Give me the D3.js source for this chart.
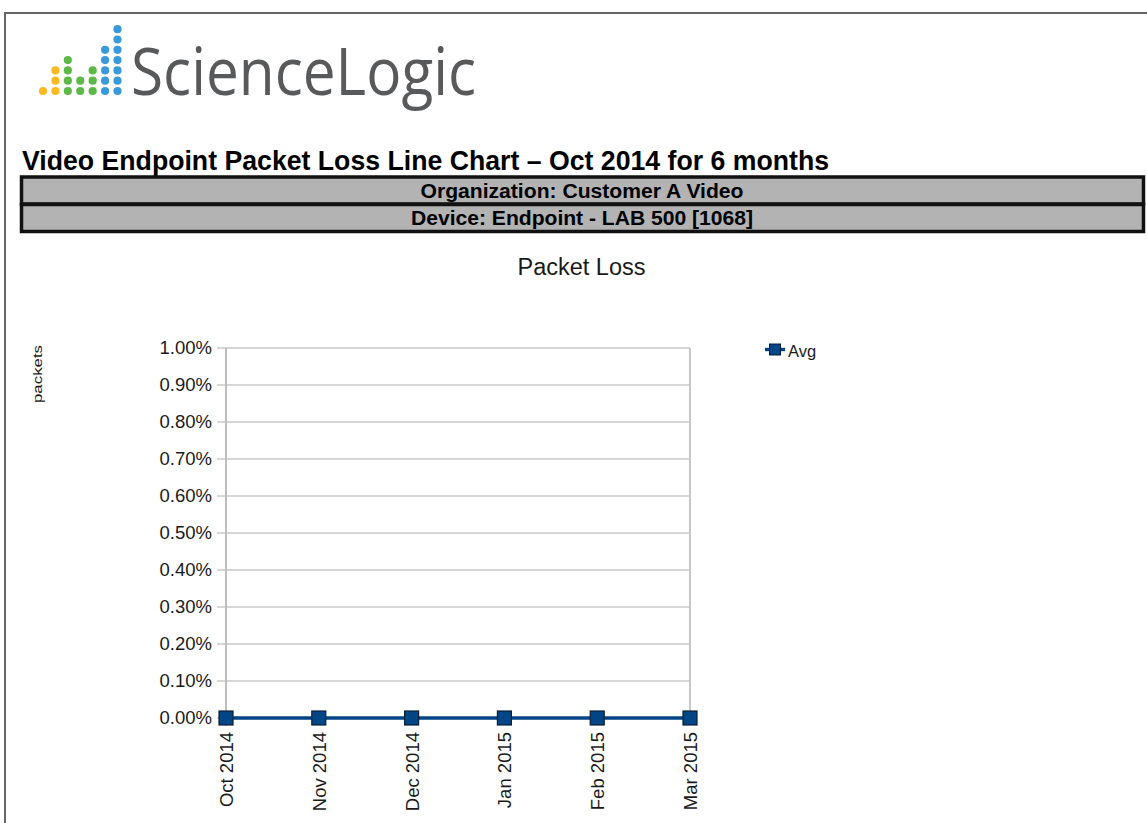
<!DOCTYPE html>
<html><head><meta charset="utf-8">
<script src="https://cdn.jsdelivr.net/npm/d3@7"></script>
<style>html,body{margin:0;padding:0;background:#fff;overflow:hidden}</style>
</head><body>
<svg id="c" width="1147" height="823"></svg>
<script>
const reportTitle = "Video Endpoint Packet Loss Line Chart \u2013 Oct 2014 for 6 months";
const headerRows = ["Organization: Customer A Video", "Device: Endpoint - LAB 500 [1068]"];
const chartTitle = "Packet Loss";
const yAxisTitle = "packets";
const categories = ["Oct 2014", "Nov 2014", "Dec 2014", "Jan 2015", "Feb 2015", "Mar 2015"];
const seriesName = "Avg";
const avgValues = [0, 0, 0, 0, 0, 0];
const yTicks = [0, 0.001, 0.002, 0.003, 0.004, 0.005, 0.006, 0.007, 0.008, 0.009, 0.01];
// logo dot columns: number of dots and colour
const logoCounts = [1, 3, 4, 2, 3, 5, 7];
const logoColors = ["#fbb923", "#fbb923", "#5db848", "#5db848", "#5db848", "#3a9ad9", "#3a9ad9"];

const svg = d3.select("#c");

// page border
svg.append("line").attr("x1", 4).attr("x2", 1147).attr("y1", 13).attr("y2", 13).attr("stroke", "#666").attr("stroke-width", 2);
svg.append("line").attr("x1", 5).attr("x2", 5).attr("y1", 12).attr("y2", 823).attr("stroke", "#666").attr("stroke-width", 2);

// logo
const logo = svg.append("g");
const colX = d3.scaleLinear().domain([0, 6]).range([43, 117.5]);
logoCounts.forEach((n, i) => {
  for (let k = 0; k < n; k++) {
    logo.append("circle").attr("cx", colX(i)).attr("cy", 91 - k * 10.3).attr("r", 4.1).attr("fill", logoColors[i]);
  }
});
logo.append("text").attr("x", 131).attr("y", 95).attr("font-family", "'Open Sans', Lato, sans-serif")
  .attr("font-size", 66).attr("fill", "#58595b").attr("textLength", 345).attr("lengthAdjust", "spacingAndGlyphs")
  .text("ScienceLogic");

// report title
const narrow = "'Liberation Sans Narrow', 'Arial Narrow', 'Liberation Sans', Arial, sans-serif";
svg.append("text").attr("x", 22).attr("y", 170).attr("font-family", narrow).attr("font-weight", "bold")
  .attr("font-size", 27).attr("fill", "#000").attr("textLength", 807).attr("lengthAdjust", "spacingAndGlyphs")
  .text(reportTitle);

// header boxes
const hdrY = [177, 204.5];
const hdrLen = [323, 342];
headerRows.forEach((t, i) => {
  svg.append("rect").attr("x", 21.5).attr("y", hdrY[i]).attr("width", 1122).attr("height", 27)
    .attr("fill", "#b3b3b3").attr("stroke", "#111").attr("stroke-width", 3.5);
});
headerRows.forEach((t, i) => {
  svg.append("text").attr("x", 582).attr("y", hdrY[i] + 20.5).attr("text-anchor", "middle")
    .attr("font-family", narrow).attr("font-weight", "bold").attr("font-size", 19.5).attr("fill", "#000")
    .attr("textLength", hdrLen[i]).attr("lengthAdjust", "spacingAndGlyphs").text(t);
});

// chart
const font = "'Liberation Sans', Arial, sans-serif";
const txt = "#1a1a1a";
svg.append("text").attr("x", 581.5).attr("y", 275).attr("text-anchor", "middle").attr("font-family", font)
  .attr("font-size", 23.5).attr("fill", txt).text(chartTitle);

const x = d3.scalePoint().domain(categories).range([226, 690]);
const y = d3.scaleLinear().domain([0, 0.01]).range([718, 348]);

const grid = svg.append("g");
grid.selectAll("line.h").data(yTicks).join("line")
  .attr("x1", 217).attr("x2", 690).attr("y1", d => y(d)).attr("y2", d => y(d))
  .attr("stroke", "#c8c8c8").attr("stroke-width", 1.6);
grid.append("line").attr("x1", x(categories[0])).attr("x2", x(categories[0])).attr("y1", y(0.01)).attr("y2", y(0) + 8)
  .attr("stroke", "#bdbdbd").attr("stroke-width", 2);
grid.append("line").attr("x1", x(categories[5])).attr("x2", x(categories[5])).attr("y1", y(0.01)).attr("y2", y(0))
  .attr("stroke", "#c8c8c8").attr("stroke-width", 2);

const yAxis = d3.axisLeft(y).tickValues(yTicks).tickFormat(d3.format(".2%")).tickSize(0).tickPadding(14);
const ya = svg.append("g").attr("transform", "translate(226,0)").call(yAxis);
ya.select(".domain").remove();
ya.selectAll("text").attr("font-family", font).attr("font-size", 18.5).attr("fill", txt);

const xAxis = d3.axisBottom(x).tickSize(0).tickPadding(0);
const xa = svg.append("g").attr("transform", "translate(0,718)").call(xAxis);
xa.select(".domain").remove();
xa.selectAll("text").attr("font-family", font).attr("font-size", 18.5).attr("fill", txt)
  .attr("text-anchor", "end").attr("dy", null)
  .attr("transform", "translate(6.5,14) rotate(-90)");

// series
const line = d3.line().x((d, i) => x(categories[i])).y(d => y(d));
svg.append("path").datum(avgValues).attr("d", line).attr("fill", "none").attr("stroke", "#004586").attr("stroke-width", 3.6);
svg.selectAll("rect.m").data(avgValues).join("rect").attr("class", "m")
  .attr("x", (d, i) => x(categories[i]) - 7).attr("y", d => y(d) - 7).attr("width", 14).attr("height", 14)
  .attr("fill", "#004586").attr("stroke", "#0a1f33").attr("stroke-width", 1.2);

// y axis title
svg.append("text").attr("transform", "translate(42,374) rotate(-90)").attr("text-anchor", "middle")
  .attr("font-family", font).attr("font-size", 13).attr("fill", txt)
  .attr("textLength", 58).attr("lengthAdjust", "spacingAndGlyphs").text(yAxisTitle);

// legend
const lg = svg.append("g");
lg.append("line").attr("x1", 765).attr("x2", 785).attr("y1", 349.5).attr("y2", 349.5).attr("stroke", "#004586").attr("stroke-width", 3.4);
lg.append("rect").attr("x", 769.5).attr("y", 344).attr("width", 11).attr("height", 11).attr("fill", "#004586").attr("stroke", "#0a1f33").attr("stroke-width", 1);
lg.append("text").attr("x", 788).attr("y", 357).attr("font-family", font).attr("font-size", 16.5).attr("fill", txt).text(seriesName);
</script>
</body></html>
